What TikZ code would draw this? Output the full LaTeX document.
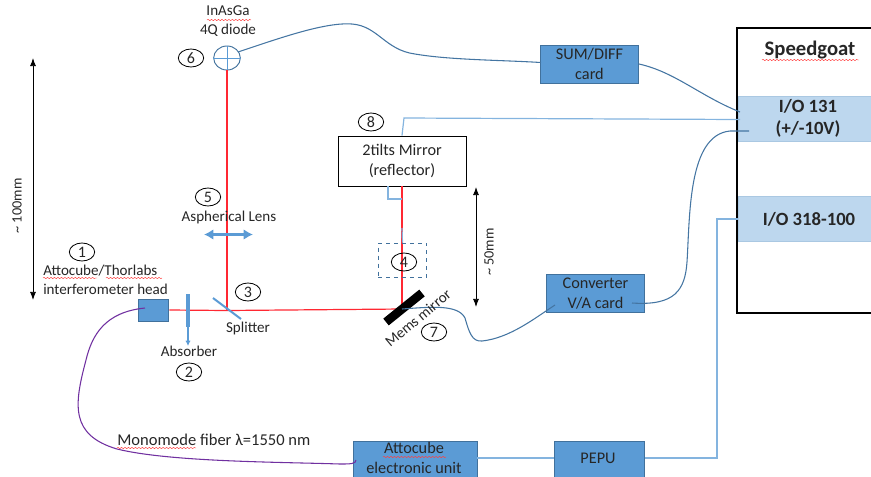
\documentclass[tikz,border=0pt]{standalone}
\usepackage{fontspec}
\setmainfont{Carlito}
\usepackage{xcolor}
\usetikzlibrary{arrows.meta,decorations.pathmorphing,shapes.geometric}
\definecolor{card}{RGB}{91,155,213}
\definecolor{cardline}{RGB}{65,113,156}
\definecolor{port}{RGB}{189,215,238}
\definecolor{beam}{RGB}{255,40,50}
\definecolor{fiber}{RGB}{112,48,160}
\definecolor{ink}{RGB}{38,38,38}
\begin{document}
\begin{tikzpicture}[x=0.75pt,y=-0.75pt,font=\fontsize{11.3}{14.25}\selectfont,text=ink,>=Latex,
  cardbox/.style={draw=cardline,fill=card,line width=0.7pt,minimum width=#1,inner sep=0pt,align=center,text=black!85,font=\fontsize{12.2}{14.5}\selectfont},
  portbox/.style={fill=port,draw=port!85!cardline,minimum width=150pt,minimum height=34pt,inner sep=0pt},
  num/.style={draw=black,ellipse,minimum width=19pt,minimum height=13.5pt,inner sep=0pt,line width=0.6pt,font=\fontsize{12}{14}\selectfont},
  lbl/.style={inner sep=0pt,align=center},
  boldlbl/.style={lbl,font=\fontsize{14}{17}\selectfont\bfseries},
  wire/.style={draw=cardline!90!card,line width=0.8pt},
  sig/.style={draw=card!75!white,line width=0.9pt},
  ray/.style={draw=beam,line width=0.9pt},
  dim/.style={<->,black,line width=0.7pt},
  squig/.style={draw=red!75,line width=0.35pt,decorate,decoration={snake,amplitude=0.5pt,segment length=2.6pt}}]
\clip (0,0) rectangle (871,476);
\path[use as bounding box] (0,0) rectangle (871,476);
% right hand unit
\node[draw=black,line width=1.6pt,minimum width=112pt,minimum height=214pt,inner sep=0pt] (goat) at (812,170.5) {};
\node[boldlbl,font=\fontsize{15.5}{17}\selectfont\bfseries] (goatlbl) at (810,50) {Speedgoat};
\node[portbox] (io131) at (838,119) {};
\node[portbox] (io318) at (838,218.5) {};
\node[boldlbl] (io131lbl) at (808,118.5) {I/O 131\\(+/-10V)};
\node[boldlbl] (io318lbl) at (809,219) {I/O 318-100};
% cards
\node[cardbox=73pt,minimum height=28.5pt] (sum) at (589.5,64) {SUM/DIFF\\card};
\node[cardbox=73pt,minimum height=29pt] (conv) at (595.5,293.5) {Converter\\V/A card};
\node[cardbox=93pt,minimum height=33pt] (atto) at (415,463) {};
\node[lbl,text=black!85,font=\fontsize{12.2}{15}\selectfont] (attolbl) at (414,458) {Attocube\\electronic unit};
\node[cardbox=67pt,minimum height=33pt] (pepu) at (599.5,463) {};
\node[lbl,text=black!85,font=\fontsize{12.2}{15}\selectfont] (pepulbl) at (598,458) {PEPU};
\node[cardbox=23pt,minimum height=16.5pt] (head) at (153.5,310) {};
% mirror box
\node[draw=black,fill=white,line width=0.7pt,minimum width=96pt,minimum height=37.5pt,inner sep=0pt,align=center,font=\fontsize{12.2}{15}\selectfont] (tilt) at (402,161) {2tilts Mirror\\(reflector)};
% diode
\node[draw=cardline,ellipse,minimum width=20pt,minimum height=18pt,inner sep=0pt,line width=0.7pt] (diode) at (227,58) {};
\draw[draw=card,line width=0.7pt] (diode.west)--(diode.east) (diode.north)--(diode.south);
% optics
\coordinate (split) at (227,310.5);
\coordinate (mirror) at (402,309);
\draw[ray] (head.east)--(split)--(mirror);
\draw[ray] (split)--(diode.south);
\draw[ray] (mirror)--(tilt.south);
\coordinate (splitA) at (213,298);
\coordinate (splitB) at (241,319);
\draw[draw=card,line width=1.5pt] (splitA)--(splitB);
\coordinate (absA) at (188,294);
\coordinate (absB) at (188,327);
\coordinate (absC) at (188,346);
\draw[draw=card,line width=3pt] (absA)--(absB);
\draw[->,draw=card,line width=0.9pt,>={Latex[length=4pt,width=4pt]}] (absB)--(absC);
\coordinate (lensA) at (204,234.5);
\coordinate (lensB) at (253,234.5);
\draw[<->,draw=card,line width=2pt,>={Latex[length=7pt,width=8pt]}] (lensA)--(lensB);
\coordinate (mirA) at (386,322);
\coordinate (mirB) at (422,293);
\draw[draw=black,line width=6.5pt] (mirA)--(mirB);
% box 4
\node[draw=cardline,dashed,minimum width=36.5pt,minimum height=25.5pt,inner sep=0pt,line width=0.6pt] (dash) at (402.5,260) {};
\coordinate (stubT) at (402,228);
\draw[sig] (stubT)--(dash.north);
\coordinate (lA) at (388,199);
\coordinate (lB) at (402,199);
\draw[sig] (lB)--(lA)--(tilt.south -| lA);
% wires
\coordinate (diodeOut) at (238,52);
\coordinate (sumIn) at (541,62.5);
\draw[wire] (diodeOut) .. controls (280,38) and (325,22) .. (352,24) .. controls (378,26) and (385,50) .. (415,54) .. controls (450,60) and (500,60) .. (sumIn);
\coordinate (sumOut) at (639,64);
\coordinate (ioA) at (740,112);
\draw[wire] (sumOut) .. controls (675,72) and (700,96) .. (ioA);
\coordinate (tiltOut) at (404,118);
\coordinate (ioB) at (740,119.5);
\draw[sig] (tilt.north)--(tiltOut)--(ioB);
\coordinate (convOut) at (632,303);
\coordinate (ioCa) at (730,131);
\coordinate (ioC) at (749,131);
\draw[wire] (convOut) .. controls (675,306) and (685,290) .. (687,262) .. controls (690,215) and (688,135) .. (ioCa)--(ioC);
\coordinate (mirOut) at (402,309);
\coordinate (convIn) at (555,305);
\draw[wire] (mirOut) .. controls (430,307) and (458,304) .. (465,318) .. controls (469,332) and (472,342) .. (482,341) .. controls (510,338) and (535,318) .. (convIn);
\coordinate (pepuUp) at (717,458);
\coordinate (ioD) at (717,219);
\draw[sig] (atto.east |- pepulbl)--(pepu.west |- pepulbl);
\draw[sig] (pepu.east |- pepulbl)--(pepuUp)--(ioD)--(io318.west |- ioD);
\coordinate (fibA) at (145,308);
\coordinate (fibB) at (356,460);
\draw[draw=fiber,line width=0.8pt] (fibA) .. controls (105,312) and (92,335) .. (86,360) .. controls (74,405) and (70,435) .. (117,449) .. controls (170,462) and (280,462) .. (340,464) .. controls (350,464) and (356,464) .. (fibB);
% dimensions
\coordinate (dimA) at (33,58);
\coordinate (dimB) at (33,300);
\coordinate (dimC) at (476,187);
\coordinate (dimD) at (476,307);
\draw[dim] (dimA)--(dimB);
\draw[dim] (dimC)--(dimD);
\node[lbl,rotate=90,font=\fontsize{10.7}{12}\selectfont] (dimAlbl) at (17,206) {\textasciitilde{} 100mm};
\node[lbl,rotate=90,font=\fontsize{10.7}{12}\selectfont] (dimClbl) at (489,252) {\textasciitilde{} 50mm};
% labels
\node[lbl,align=left,anchor=west] (headlbl) at (43,279.5) {Attocube/Thorlabs\\interferometer head};
\node[lbl] (absorb) at (189,351) {Absorber};
\node[lbl] (splitlbl) at (248,328) {Splitter};
\node[lbl] (lens) at (229,217) {Aspherical Lens};
\node[lbl] (diodelbl) at (228,21) {InAsGa\\4Q diode};
\node[lbl,rotate=40] (memslbl) at (418,318) {Mems mirror};
\node[lbl,anchor=west,font=\fontsize{12.4}{14}\selectfont] (fiblbl) at (117,440) {Monomode fiber λ=1550 nm};
\node[num] (n1) at (82,252) {1};
\node[num] (n2) at (189,372) {2};
\node[num] (n3) at (248,292) {3};
\node[num] (n4) at (404,262) {4};
\node[num] (n5) at (208,197) {5};
\node[num] (n6) at (191,58) {6};
\node[num] (n7) at (434,332) {7};
\node[num] (n8) at (371,122) {8};
% spelling marks
\coordinate (sqA) at (43,278);
\coordinate (sqB) at (97,278);
\coordinate (sqC) at (106,278);
\coordinate (sqD) at (162,278);
\coordinate (sqE) at (117,448);
\coordinate (sqF) at (196,448);
\coordinate (sqG) at (207,20);
\coordinate (sqH) at (251,20);
\coordinate (sqI) at (762,60);
\coordinate (sqJ) at (859,60);
\coordinate (sqK) at (383,457);
\coordinate (sqL) at (446,457);
\foreach \a/\b in {sqA/sqB,sqC/sqD,sqE/sqF,sqG/sqH,sqI/sqJ,sqK/sqL}
  \draw[squig] (\a)--(\b);
\end{tikzpicture}
\end{document}
